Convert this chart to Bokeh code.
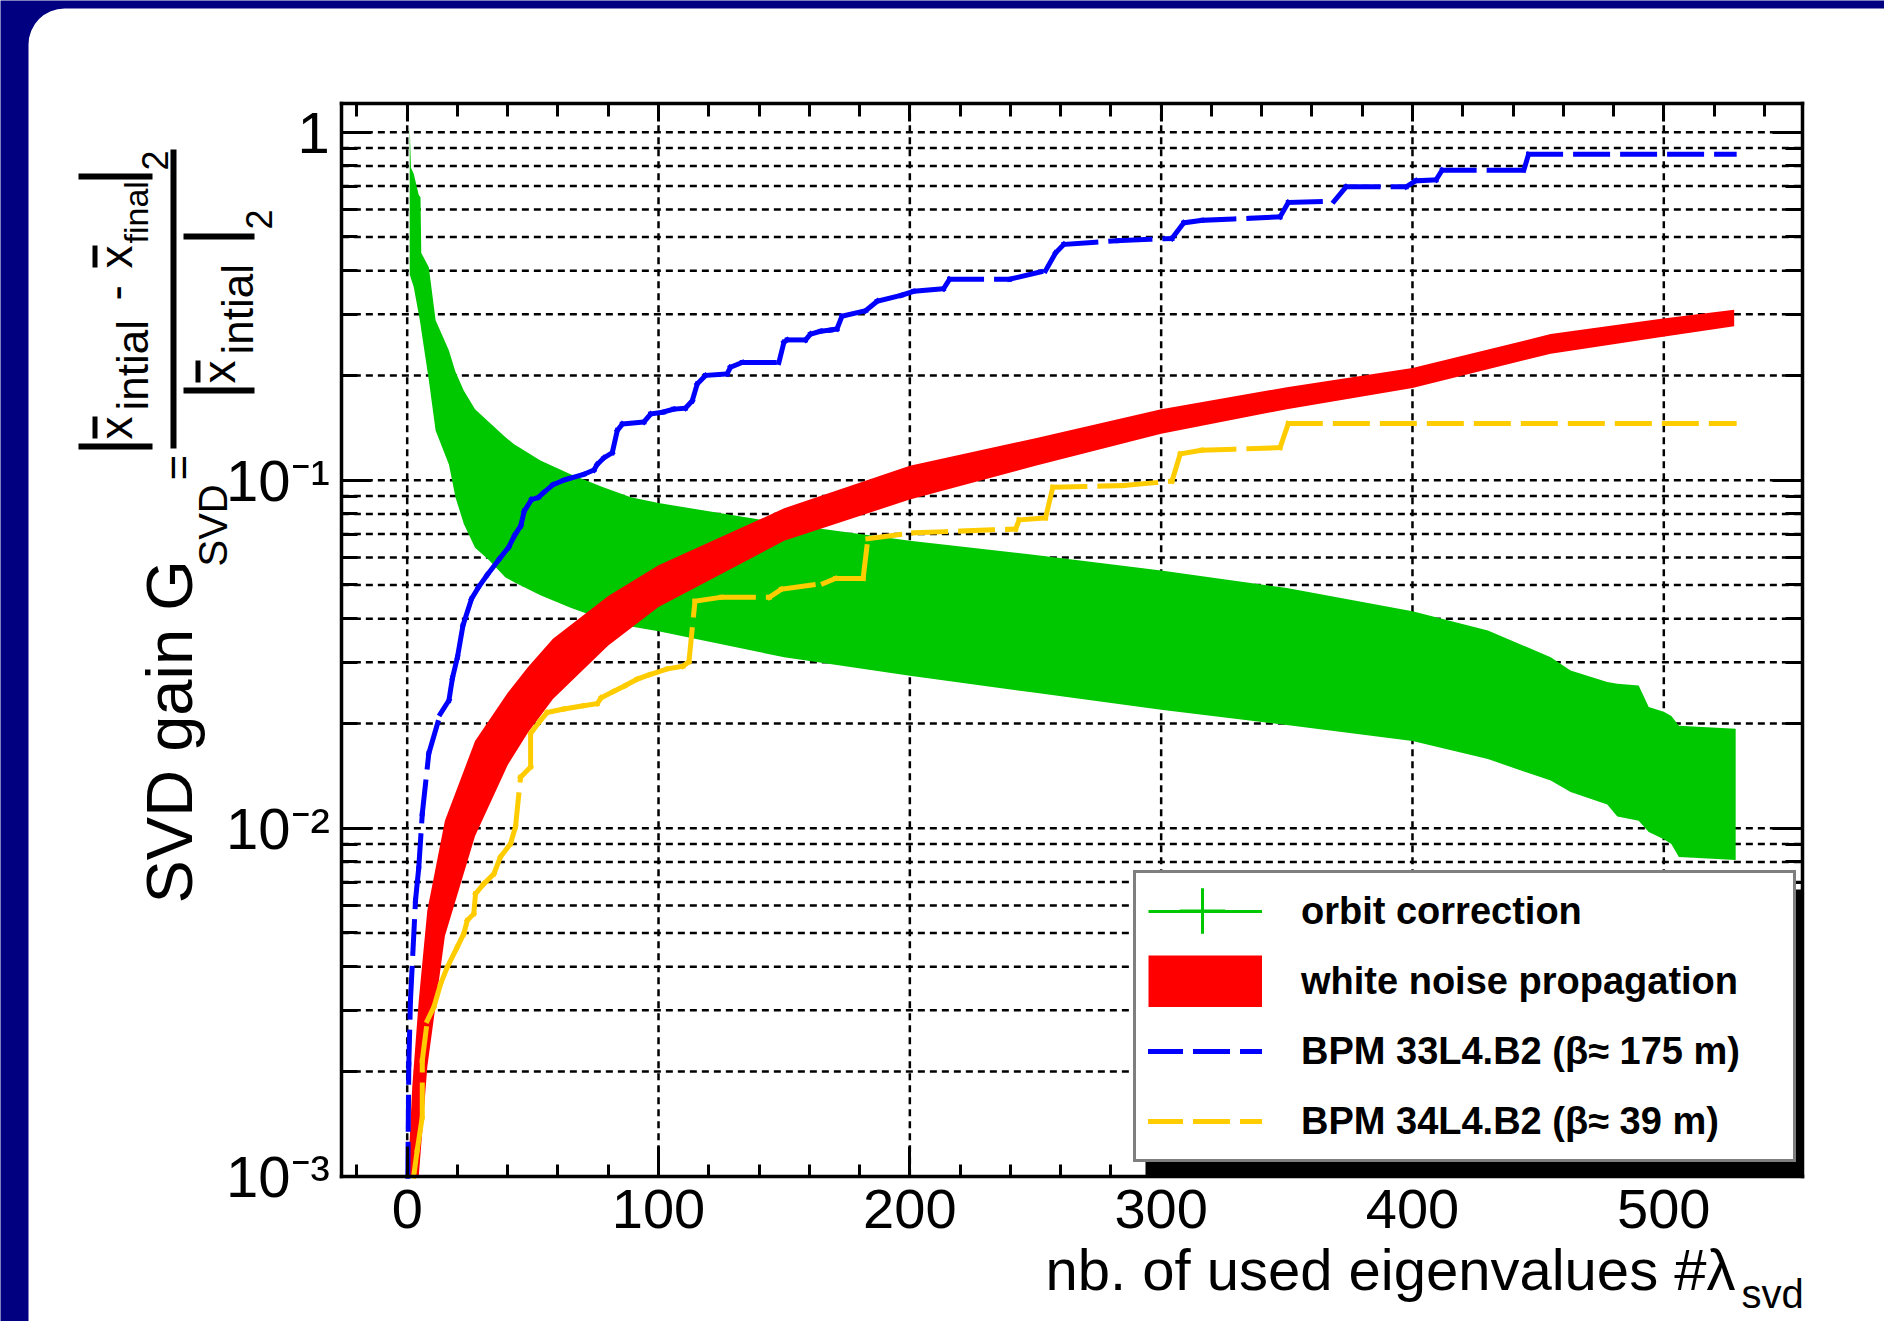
import math
from bokeh.plotting import figure
from bokeh.models import (FixedTicker, LinearAxis, LogAxis, Label, BoxAnnotation, Legend,
                          LegendItem, CustomJSTickFormatter, ColumnDataSource, Range1d, Grid)
from bokeh.embed import file_html
from bokeh.resources import INLINE

# ---------------- data ----------------
green_x = [1.0, 1.5, 2.6, 4.6, 5.3, 5.6, 8.6, 11.3, 16.6, 19.2, 22.5, 27.0, 32.5, 39.0, 42.4,
           53.0, 65.0, 78.0, 89.0, 100.0, 150.0, 200.0, 250.0, 300.0, 350.0, 400.0, 430.0,
           455.0, 462.9, 477.5, 481.5, 490.0, 494.0, 500.0, 503.0, 506.0, 528.6]
green_hi = [1.04, 0.79, 0.76, 0.66, 0.65, 0.45, 0.409, 0.288, 0.236, 0.205, 0.181, 0.160, 0.147,
            0.133, 0.127, 0.114, 0.104, 0.0954, 0.0894, 0.086, 0.075, 0.067, 0.061, 0.055, 0.049,
            0.042, 0.037, 0.031, 0.0284, 0.0263, 0.026, 0.0257, 0.0223, 0.0216, 0.021, 0.0197,
            0.0193]
green_lo = [0.39, 0.38, 0.359, 0.30, 0.28, 0.27, 0.194, 0.139, 0.111, 0.0894, 0.075, 0.064, 0.059,
            0.0526, 0.051, 0.0467, 0.043, 0.0398, 0.038, 0.0368, 0.031, 0.0274, 0.0245, 0.0219,
            0.0198, 0.0178, 0.0158, 0.0137, 0.0127, 0.0117, 0.0108, 0.0105, 0.00975, 0.0093,
            0.009, 0.00826, 0.0081]

red_x = [0.3, 2, 4.6, 8, 15, 27, 40, 48, 58, 80, 100, 150, 200, 250, 300, 350, 400, 455, 499, 528]
red_lo = [0.001, 0.001, 0.001, 0.00206, 0.0049, 0.0095, 0.0152, 0.0188, 0.0235, 0.0335, 0.0432,
          0.067, 0.088, 0.110, 0.136, 0.160, 0.184, 0.231, 0.258, 0.277]
red_hi = [0.001, 0.0018, 0.0032, 0.0058, 0.0105, 0.0178, 0.0245, 0.029, 0.035, 0.0465, 0.057,
          0.083, 0.110, 0.132, 0.160, 0.185, 0.210, 0.263, 0.291, 0.309]

blue_x = [0.25, 0.64, 1.3, 3.3, 4.6, 6.0, 8.6, 13.2, 16.6, 18.0, 20.0, 22.2, 25.6, 28.4, 31.8,
          36.6, 40.4, 42.8, 45.2, 46.6, 49.5, 52.2, 54.2, 58.0, 62.3, 64.3, 70.3, 74.3, 75.6,
          78.3, 81.6, 83.6, 85.6, 94.2, 96.9, 102.0, 106.0, 110.7, 113.4, 115.4, 118.7, 127.3,
          128.6, 133.3, 147.9, 149.9, 151.2, 158.5, 160.5, 164.5, 168.5, 171.0, 173.0, 182.4,
          187.1, 196.7, 201.5, 213.4, 215.8, 239.7, 254.0, 258.0, 261.3, 282.8, 304.3, 309.0,
          316.2, 347.3, 350.6, 368.8, 373.6, 397.5, 401.3, 409.4, 411.8, 444.3, 446.2, 528.0]
blue_y = [0.001, 0.0021, 0.0032, 0.0062, 0.0077, 0.011, 0.0164, 0.0213, 0.0233, 0.027,
          0.031, 0.0383, 0.0456, 0.0493, 0.0534, 0.0593, 0.0642, 0.0695, 0.074, 0.0815, 0.088,
          0.0893, 0.092, 0.097, 0.100, 0.101, 0.104, 0.107, 0.111, 0.116, 0.120, 0.139, 0.145,
          0.147, 0.155, 0.157, 0.160, 0.161, 0.169, 0.189, 0.200, 0.202, 0.211, 0.218, 0.218,
          0.249, 0.253, 0.253, 0.263, 0.268, 0.270, 0.272, 0.296, 0.307, 0.327, 0.340, 0.349,
          0.355, 0.378, 0.378, 0.400, 0.450, 0.476, 0.488, 0.495, 0.549, 0.558, 0.571, 0.628,
          0.633, 0.697, 0.697, 0.725, 0.730, 0.778, 0.778, 0.864, 0.864]

yel_x = [2.6, 4.0, 6.0, 6.0, 8.0, 10.6, 13.3, 15.9, 19.9, 22.5, 23.9, 26.5, 27.2, 30.5, 34.5,
         37.1, 41.1, 43.1, 45.1, 49.1, 49.1, 53.0, 55.7, 62.3, 70.3, 75.6, 77.2, 82.0, 86.8,
         91.5, 96.3, 103.5, 109.7, 112.1, 114.5, 125.0, 144.1, 148.9, 165.6, 170.4, 181.4, 183.3,
         201.5, 242.1, 243.5, 254.0, 256.9, 285.1, 304.3, 307.6, 316.2, 347.3, 350.6, 528.0]
yel_y = [0.001, 0.00119, 0.00148, 0.00215, 0.0028, 0.00306, 0.00357, 0.00398, 0.00455,
         0.00497, 0.00543, 0.00568, 0.00648, 0.00692, 0.0074, 0.00826, 0.00902, 0.0101, 0.014,
         0.015, 0.0187, 0.0204, 0.0215, 0.022, 0.0225, 0.0228, 0.0237, 0.0247, 0.0257, 0.0268,
         0.0276, 0.0287, 0.0292, 0.0301, 0.0449, 0.0461, 0.0461, 0.0486, 0.0505, 0.0522, 0.0522,
         0.0679, 0.0706, 0.0724, 0.0769, 0.0779, 0.0955, 0.0965, 0.0994, 0.119, 0.122, 0.124,
         0.1455, 0.1455]

x_major = [0, 100, 200, 300, 400, 500]
x_minor = list(range(-20, 560, 20))
y_major = [1e-3, 1e-2, 1e-1, 1.0]
y_minor = [m * 10.0 ** k for k in (-3, -2, -1) for m in range(2, 10)]
x_lim = (-26.0, 555.0)
y_lim = (1e-3, 1.211)

labels = ["orbit correction", "white noise propagation",
          "BPM 33L4.B2 (β≈ 175 m)", "BPM 34L4.B2 (β≈ 39 m)"]

GREEN, RED, BLUE, YEL, NAVY = "#00C800", "#FF0000", "#0000FF", "#FFCC00", "#000080"
FONT = "Liberation Sans"

# ---------------- page geometry (pixels) ----------------
W, H = 1884, 1321
X0PX, XS = 406.7, 2.5132      # pixel of x=0, pixels per unit
Y1PX, DEC = 131.7, 348.0      # pixel of y=1, pixels per decade
BASE = 0.35                   # baseline correction (fraction of font size)

def dx(px):
    return (px - X0PX) / XS

def dy(py):
    return 10 ** (-(py - Y1PX) / DEC)

p = figure(width=W, height=H, x_range=Range1d(dx(0), dx(W)), y_range=Range1d(dy(H), dy(0)),
           y_axis_type="log", x_axis_location=None, y_axis_location=None,
           output_backend="svg", toolbar_location=None, min_border=0)
p.background_fill_color = NAVY
p.border_fill_color = NAVY
p.outline_line_color = None
for r in list(p.center):
    if isinstance(r, Grid):
        r.visible = False

def pbox(l, r, t, b, color, level="overlay", radius=0, alpha=1.0):
    bx = BoxAnnotation(left=dx(l), right=dx(r), top=dy(t), bottom=dy(b),
                       fill_color=color, fill_alpha=alpha, line_color=None, level=level,
                       border_radius=radius)
    p.add_layout(bx)
    return bx

# white rounded sheet on the navy page
pbox(28, W + 80, 8, H + 80, "white", level="image", radius=36)

xt = FixedTicker(ticks=x_major, minor_ticks=x_minor)
yt = FixedTicker(ticks=y_major, minor_ticks=y_minor)

blank = CustomJSTickFormatter(code="return '';")
yfmt = CustomJSTickFormatter(code="""
const e = Math.round(Math.log10(tick));
if (e === 0) { return '1'; }
const sup = {'-1': '\u207b\u00b9', '-2': '\u207b\u00b2', '-3': '\u207b\u00b3'};
return '10' + (sup[String(e)] || '');
""")

def style_axis(ax, maj_in, min_in):
    ax.major_tick_in = maj_in
    ax.major_tick_out = 0
    ax.minor_tick_in = min_in
    ax.minor_tick_out = 0
    ax.major_tick_line_width = 3
    ax.minor_tick_line_width = 3
    ax.major_tick_line_color = "black"
    ax.minor_tick_line_color = "black"
    ax.axis_line_width = 3.5
    ax.axis_line_color = "black"
    ax.axis_line_cap = "square"
    ax.major_label_text_font = FONT
    ax.major_label_text_color = "black"

xb = LinearAxis(ticker=xt, fixed_location=y_lim[0], bounds=x_lim)
style_axis(xb, 30, 12)
xb.major_label_text_font_size = "56px"
xb.major_label_standoff = 14
p.add_layout(xb, "below")

xtop = LinearAxis(ticker=xt, formatter=blank, fixed_location=y_lim[1], bounds=x_lim,
                  major_label_standoff=0)
style_axis(xtop, 18, 13)
p.add_layout(xtop, "above")

yl = LogAxis(ticker=yt, formatter=yfmt, fixed_location=x_lim[0], bounds=y_lim)
style_axis(yl, 30, 16)
yl.major_label_text_font_size = "58px"
yl.major_label_standoff = 12
p.add_layout(yl, "left")

yr = LogAxis(ticker=yt, formatter=blank, fixed_location=x_lim[1], bounds=y_lim,
             major_label_standoff=0)
style_axis(yr, 30, 17)
p.add_layout(yr, "right")

# grid lines, from the tick lists, limited to the chart frame
vg = ColumnDataSource(dict(x=x_major, y0=[y_lim[0]] * len(x_major), y1=[y_lim[1]] * len(x_major)))
p.segment(x0="x", y0="y0", x1="x", y1="y1", source=vg, line_color="black",
          line_width=2.5, line_dash="7 5")
y_all = y_major + y_minor
hg = ColumnDataSource(dict(y=y_all, x0=[x_lim[0]] * len(y_all), x1=[x_lim[1]] * len(y_all)))
p.segment(x0="x0", y0="y", x1="x1", y1="y", source=hg, line_color="black",
          line_width=2.5, line_dash="7 5")

# ---------------- data marks ----------------
gsrc = ColumnDataSource(dict(x=green_x, lo=green_lo, hi=green_hi))
g_band = p.varea(x="x", y1="lo", y2="hi", source=gsrc, fill_color=GREEN, fill_alpha=1.0)
rsrc = ColumnDataSource(dict(x=red_x, lo=red_lo, hi=red_hi))
r_band = p.varea(x="x", y1="lo", y2="hi", source=rsrc, fill_color=RED, fill_alpha=1.0)

def steps(xs, ys):
    return ColumnDataSource(dict(x0=xs[:-1], y0=ys[:-1], x1=xs[1:], y1=ys[1:]))

b_line = p.segment(x0="x0", y0="y0", x1="x1", y1="y1", source=steps(blue_x, blue_y),
                   line_color=BLUE, line_width=5, line_dash="32 15", line_cap="square")
y_line = p.segment(x0="x0", y0="y0", x1="x1", y1="y1", source=steps(yel_x, yel_y),
                   line_color=YEL, line_width=5, line_dash="32 15", line_cap="square")

# legend keys: renderers sharing the band data, not drawn in the plot itself
g_h = p.line(x="x", y="hi", source=gsrc, line_color=GREEN, line_width=3, visible=False)
g_c = p.scatter(x="x", y="hi", source=gsrc, marker="cross", size=0,
                line_color=GREEN, line_width=3)
r_key = p.line(x="x", y="hi", source=rsrc, line_color=RED, line_width=52, visible=False)

# legend shadow
pbox(1145, 1803, 889, 1177, "black", level="annotation")

LEG_BOTTOM = 1162
legend = Legend(items=[LegendItem(label=labels[0], renderers=[g_h]),
                       LegendItem(label=labels[1], renderers=[r_band, r_key]),
                       LegendItem(label=labels[2], renderers=[b_line]),
                       LegendItem(label=labels[3], renderers=[y_line])],
                location=(1133, H - LEG_BOTTOM), margin=0, padding=12, spacing=18,
                glyph_width=114, glyph_height=52, label_standoff=39, label_width=480,
                label_text_font=FONT, label_text_font_style="bold",
                label_text_font_size="38px", label_text_color="black",
                border_line_color="black", border_line_width=3,
                background_fill_color="white", background_fill_alpha=1.0,
                inactive_fill_alpha=0.0)
p.add_layout(legend)

# cross of the "orbit correction" key: a transparent one-key legend on top,
# with a tall glyph box so that the marker gets the full height
KEY_H = 115
key_leg = Legend(items=[LegendItem(label=" ", renderers=[g_c])],
                 location=(1145, H - (910.5 + KEY_H / 2)), margin=0, padding=0, spacing=0,
                 glyph_width=114, glyph_height=KEY_H, label_standoff=0, label_width=1,
                 label_text_font_size="10px", border_line_color=None,
                 background_fill_alpha=0.0, inactive_fill_alpha=0.0)
p.add_layout(key_leg)

# ---------------- titles ----------------
R = math.pi / 2

def hlab(text, px, base_y, size, align="left"):
    p.add_layout(Label(text=text, x=dx(px), y=dy(base_y - BASE * size), text_font=FONT,
                       text_font_size=f"{size}px", text_align=align,
                       text_baseline="alphabetic", text_color="black", level="overlay"))

def vlab(text, base_x, start_y, size):
    p.add_layout(Label(text=text, x=dx(base_x - BASE * size), y=dy(start_y), angle=R,
                       text_font=FONT, text_font_size=f"{size}px", text_align="left",
                       text_baseline="alphabetic", text_color="black", level="overlay"))

# x title
hlab("nb. of used eigenvalues #λ", 1735, 1289, 58, align="right")
hlab("svd", 1741, 1307, 40)

# y title, rotated
vlab("SVD gain G", 192, 903, 65)
vlab("SVD", 226, 566, 40)
vlab("=", 193, 480, 44)
pbox(170, 176, 149, 448, "black")           # fraction bar
# numerator
pbox(78, 152, 443, 449, "black")
vlab("x", 132, 439, 46)
pbox(92, 97, 416, 438, "black")
vlab("intial", 147, 410, 44)
vlab("-", 132, 300, 46)
vlab("x", 132, 268, 46)
pbox(92, 97, 245, 267, "black")
vlab("final", 147, 243, 34)
pbox(78, 152, 173, 179, "black")
vlab("2", 167, 170, 36)
# denominator
pbox(183, 254, 387, 393, "black")
vlab("x", 235, 383, 46)
pbox(195, 200, 360, 382, "black")
vlab("intial", 252, 354, 44)
pbox(183, 254, 233, 239, "black")
vlab("2", 271, 229, 36)

open("out.html", "w").write(file_html(p, INLINE))
